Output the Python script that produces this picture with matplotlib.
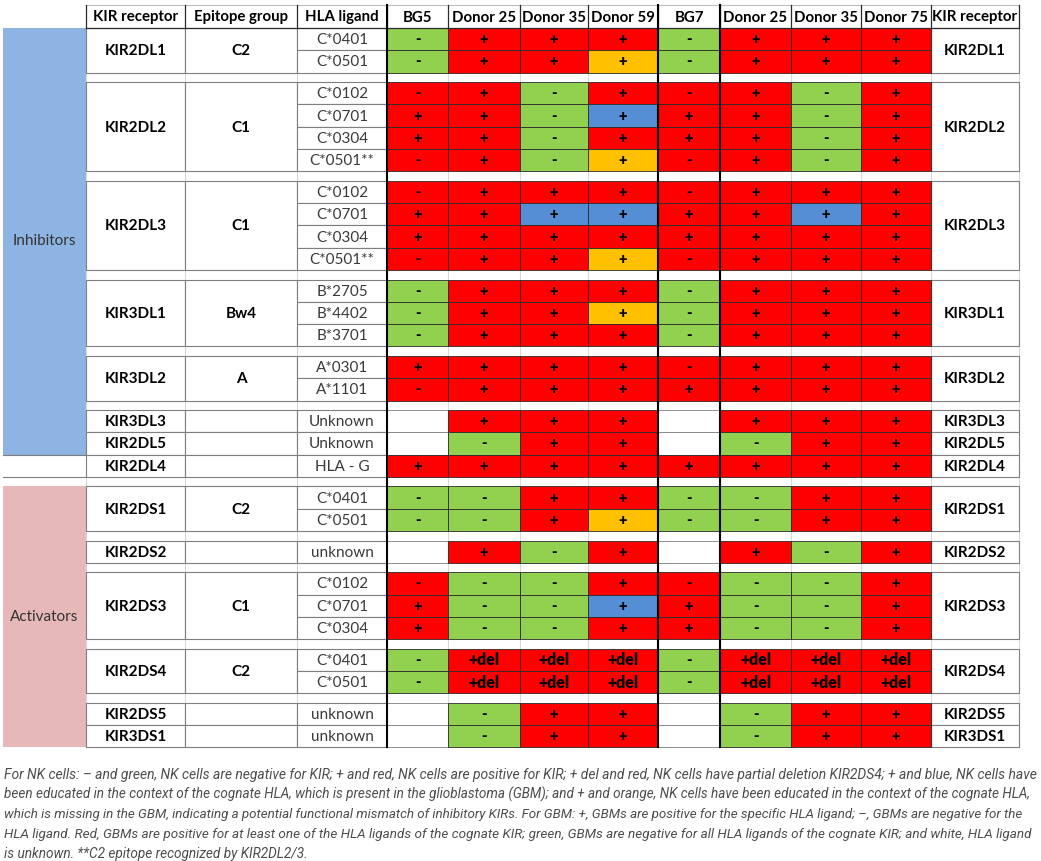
import matplotlib
matplotlib.use("Agg")
import matplotlib.pyplot as plt
from matplotlib import font_manager as fm
from matplotlib.patches import Rectangle

# ---- table content -------------------------------------------------------
header = ["", "KIR receptor", "Epitope group", "HLA ligand", "BG5", "Donor 25",
          "Donor 35", "Donor 59", "BG7", "Donor 25", "Donor 35", "Donor 75",
          "KIR receptor"]

receptors = ["KIR2DL1", "KIR2DL2", "KIR2DL3", "KIR3DL1", "KIR3DL2", "KIR3DL3",
             "KIR2DL5", "KIR2DL4", "KIR2DS1", "KIR2DS2", "KIR2DS3", "KIR2DS4",
             "KIR2DS5", "KIR3DS1"]
epitopes = ["C2", "C1", "C1", "Bw4", "A", "", "", "", "C2", "", "C1", "C2", "", ""]
ligands = [["C*0401", "C*0501"],
           ["C*0102", "C*0701", "C*0304", "C*0501**"],
           ["C*0102", "C*0701", "C*0304", "C*0501**"],
           ["B*2705", "B*4402", "B*3701"],
           ["A*0301", "A*1101"],
           ["Unknown"],
           ["Unknown"],
           ["HLA - G"],
           ["C*0401", "C*0501"],
           ["unknown"],
           ["C*0102", "C*0701", "C*0304"],
           ["C*0401", "C*0501"],
           ["unknown"],
           ["unknown"]]

# colour letter + symbol: r red, g green, o orange, b blue, w white; d = "+del"
cells = [["g- r+ r+ r+ g- r+ r+ r+",
          "g- r+ r+ o+ g- r+ r+ r+"],
         ["r- r+ g- r+ r- r+ g- r+",
          "r+ r+ g- b+ r+ r+ g- r+",
          "r+ r+ g- r+ r+ r+ g- r+",
          "r- r+ g- o+ r- r+ g- r+"],
         ["r- r+ r+ r+ r- r+ r+ r+",
          "r+ r+ b+ b+ r+ r+ b+ r+",
          "r+ r+ r+ r+ r+ r+ r+ r+",
          "r- r+ r+ o+ r- r+ r+ r+"],
         ["g- r+ r+ r+ g- r+ r+ r+",
          "g- r+ r+ o+ g- r+ r+ r+",
          "g- r+ r+ r+ g- r+ r+ r+"],
         ["r+ r+ r+ r+ r- r+ r+ r+",
          "r- r+ r+ r+ r+ r+ r+ r+"],
         ["w r+ r+ r+ w r+ r+ r+"],
         ["w g- r+ r+ w g- r+ r+"],
         ["r+ r+ r+ r+ r+ r+ r+ r+"],
         ["g- g- r+ r+ g- g- r+ r+",
          "g- g- r+ o+ g- g- r+ r+"],
         ["w r+ g- r+ w r+ g- r+"],
         ["r- g- g- r+ r- g- g- r+",
          "r+ g- g- b+ r+ g- g- r+",
          "r+ g- g- r+ r+ g- g- r+"],
         ["g- rd rd rd g- rd rd rd",
          "g- rd rd rd g- rd rd rd"],
         ["w g- r+ r+ w g- r+ r+"],
         ["w g- r+ r+ w g- r+ r+"]]

roles = ["Inhibitors"] * 7 + [""] + ["Activators"] * 6
gap_after = [1, 1, 1, 1, 1, 0, 0, 1, 1, 1, 1, 1, 0, 0]

caption = [
    "For NK cells: \u2013 and green, NK cells are negative for KIR; + and red, NK cells are positive for KIR; + del and red, NK cells have partial deletion KIR2DS4; + and blue, NK cells have",
    "been educated in the context of the cognate HLA, which is present in the glioblastoma (GBM); and + and orange, NK cells have been educated in the context of the cognate HLA,",
    "which is missing in the GBM, indicating a potential functional mismatch of inhibitory KIRs. For GBM: +, GBMs are positive for the specific HLA ligand; \u2013, GBMs are negative for the",
    "HLA ligand. Red, GBMs are positive for at least one of the HLA ligands of the cognate KIR; green, GBMs are negative for all HLA ligands of the cognate KIR; and white, HLA ligand",
    "is unknown. **C2 epitope recognized by KIR2DL2/3.",
]

# ---- styling -------------------------------------------------------------
fill = {"r": "#FF0000", "g": "#92D050", "o": "#FFC000", "b": "#558ED5", "w": "white"}
symbol = {"+": "+", "-": "-", "d": "+del"}
role_color = {"Inhibitors": "#8DB4E2", "Activators": "#E6B9B8"}


def have(name):
    try:
        fm.findfont(fm.FontProperties(family=name), fallback_to_default=False)
        return True
    except ValueError:
        return False


tfont = "Lato" if have("Lato") else "DejaVu Sans"
cfont = "Liberation Sans Narrow" if have("Liberation Sans Narrow") else "Roboto"

col_edges = [3, 86, 185, 297, 387, 448, 520, 588, 658, 720, 791, 861, 931, 1019]
head_top, head_bot = 5, 28
row_h, gap_h = 22.3, 9.5
grid = "#7F7F7F"
dark = "#2B2B2B"

fig = plt.figure(figsize=(10.41, 8.61), dpi=100)
ax = fig.add_axes([0, 0, 1, 1])
ax.set_xlim(0, 1041)
ax.set_ylim(861, 0)
ax.axis("off")


def box(x0, x1, y0, y1, fc, ec, lw=0.8, z=1):
    ax.add_patch(Rectangle((x0, y0), x1 - x0, y1 - y0, facecolor=fc,
                           edgecolor=ec, linewidth=lw, zorder=z))


# row positions
y = head_bot
blocks, gaps = [], []
for i in range(len(receptors)):
    top = y
    rows = []
    for _ in ligands[i]:
        rows.append(y)
        y += row_h
    blocks.append((top, y, rows))
    if gap_after[i]:
        gaps.append((y, y + gap_h))
        y += gap_h
bottom = y

# header
ax.plot([col_edges[1], col_edges[-1]], [head_top, head_top], color="#BFBFBF", lw=0.8)
ax.plot([col_edges[1], col_edges[-1]], [head_bot, head_bot], color=dark, lw=0.9)
for k, lab in enumerate(header):
    x0, x1 = col_edges[k], col_edges[k + 1]
    if k > 0:
        ax.plot([x0, x0], [head_top, head_bot], color=dark, lw=0.9)
    ax.text((x0 + x1) / 2, (head_top + head_bot) / 2 + 1, lab, ha="center",
            va="center", fontsize=10.8, fontweight="bold", family=tfont)
ax.plot([col_edges[-1]] * 2, [head_top, head_bot], color=dark, lw=0.9)

# group bars
for role in role_color:
    idx = [i for i, r in enumerate(roles) if r == role]
    y0, y1 = blocks[idx[0]][0], blocks[idx[-1]][1]
    box(col_edges[0], col_edges[1], y0, y1, role_color[role], "none", z=0.5)
    ax.text((col_edges[0] + col_edges[1]) / 2, (y0 + y1) / 2, role, ha="center",
            va="center", fontsize=11, color="#333333", family=tfont)
for i, r in enumerate(roles):
    if r == "":
        top, bot, _ = blocks[i]
        ax.plot([col_edges[0], col_edges[1]], [top, top], color=grid, lw=0.8)
        ax.plot([col_edges[0], col_edges[1]], [bot, bot], color=grid, lw=0.8)

# gap rows
for g0, g1 in gaps:
    for x in col_edges[1:]:
        ax.plot([x, x], [g0, g1], color="#D9D9D9", lw=0.8, zorder=0.8)

# label cells and data cells
for i, rec in enumerate(receptors):
    top, bot, rows = blocks[i]
    box(col_edges[1], col_edges[2], top, bot, "white", grid)
    box(col_edges[2], col_edges[3], top, bot, "white", grid)
    box(col_edges[12], col_edges[13], top, bot, "white", grid)
    mid = (top + bot) / 2 + 1
    for k in (1, 12):
        ax.text((col_edges[k] + col_edges[k + 1]) / 2, mid, rec, ha="center",
                va="center", fontsize=11, fontweight="bold", family=tfont)
    ax.text((col_edges[2] + col_edges[3]) / 2, mid, epitopes[i], ha="center",
            va="center", fontsize=11, fontweight="bold", family=tfont)
    for j, ry in enumerate(rows):
        box(col_edges[3], col_edges[4], ry, ry + row_h, "white", grid)
        ax.text((col_edges[3] + col_edges[4]) / 2, ry + row_h / 2 + 1, ligands[i][j],
                ha="center", va="center", fontsize=11, color="#3A3A3A", family=tfont)
        for k, code in enumerate(cells[i][j].split()):
            x0, x1 = col_edges[4 + k], col_edges[5 + k]
            ec = grid if code[0] == "w" else dark
            box(x0, x1, ry, ry + row_h, fill[code[0]], ec, lw=0.6, z=1.2)
            if len(code) > 1:
                fs = 11.5 if code[1] == "d" else 10.5
                ax.text((x0 + x1) / 2, ry + row_h / 2 + 0.5, symbol[code[1]],
                        ha="center", va="center", fontsize=fs, fontweight="heavy",
                        family=tfont, zorder=3)

# thick separators
for x in (col_edges[4], col_edges[8], col_edges[9]):
    ax.plot([x, x], [head_top, bottom], color="black", lw=1.5, zorder=4)

# caption, each line stretched to the table width
texts = []
for n, line in enumerate(caption):
    t = ax.text(4, 775 + 19.8 * n, line, ha="left", va="center", fontsize=8.5,
                style="italic", color="#4D4D4D", family=cfont)
    texts.append(t)
target = 1030
sizes = []
for t in texts[:-1]:
    for _ in range(4):
        fig.canvas.draw()
        w = t.get_window_extent(fig.canvas.get_renderer()).width
        t.set_fontsize(t.get_fontsize() * target / w)
    sizes.append(t.get_fontsize())
texts[-1].set_fontsize(sum(sizes) / len(sizes))

fig.savefig("out.png", dpi=100)
